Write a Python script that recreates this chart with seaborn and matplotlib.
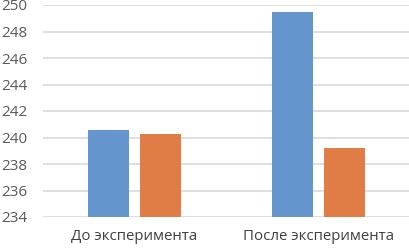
import numpy as np
import pandas as pd
import matplotlib
matplotlib.use("Agg")
import matplotlib.pyplot as plt
import seaborn as sns

# dados do gráfico
categorias = ["До эксперимента", "После эксперимента"]
serie1 = [240.6, 249.5]
serie2 = [240.3, 239.2]

df = pd.DataFrame({
    "cat": categorias * 2,
    "serie": ["Ряд 1"] * 2 + ["Ряд 2"] * 2,
    "valor": serie1 + serie2,
})

sns.set_style("white")
plt.rcParams["font.family"] = ["Open Sans", "DejaVu Sans"]

fig = plt.figure(figsize=(4.1, 2.5), dpi=100)
ax = fig.add_axes([0.1037, 0.132, 0.8963, 0.848])

sns.barplot(data=df, x="cat", y="valor", hue="serie",
            palette=["#6495CC", "#E07C45"], saturation=1,
            width=0.565, gap=0.21, linewidth=0,
            legend=False, ax=ax, zorder=2)

ax.set_ylim(234, 250)
ax.set_xlim(-0.5, 1.5)
ax.set_yticks(np.arange(234, 251, 2))
ax.yaxis.grid(True, color="#d9d9d9", linewidth=1.2, zorder=0)
ax.set_axisbelow(True)
for s in ax.spines.values():
    s.set_visible(False)
ax.set_xlabel("")
ax.set_ylabel("")
ax.tick_params(axis="y", length=0, pad=11, labelsize=11, labelcolor="#595959")
ax.tick_params(axis="x", length=0, pad=9, labelsize=10.8, labelcolor="#404040")

fig.savefig("out.png", dpi=100)
